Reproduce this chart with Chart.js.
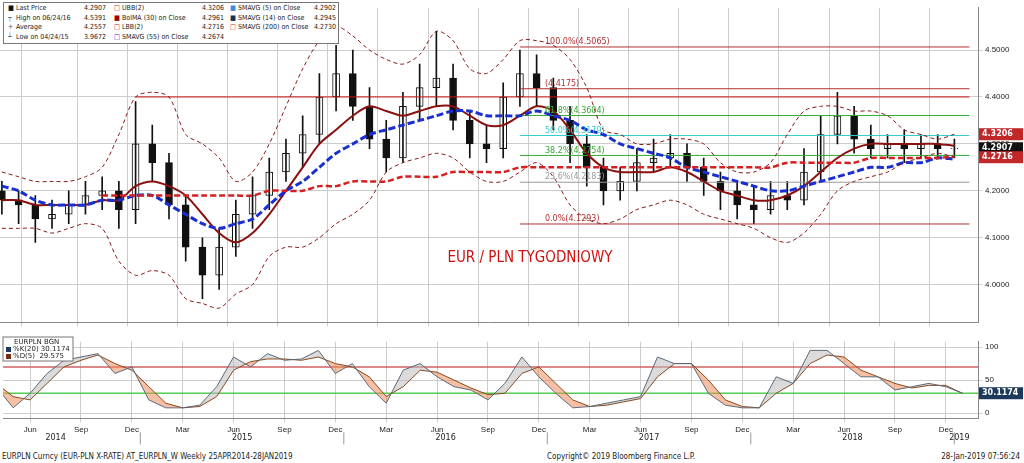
<!DOCTYPE html>
<html><head><meta charset="utf-8">
<script src="https://cdn.jsdelivr.net/npm/chart.js@4/dist/chart.umd.min.js"></script>
<style>
body{margin:0;background:#fff;font-family:"DejaVu Sans",sans-serif;}
#wrap{position:relative;width:1024px;height:463px;}
#top{position:absolute;left:0;top:0;}
#bot{position:absolute;left:0;top:334px;}
#legend{position:absolute;left:3px;top:2px;width:334px;height:40px;background:#fff;border:1px solid #777;font-size:7px;color:#222;font-family:"DejaVu Sans Condensed","DejaVu Sans",sans-serif;}
#legend span{position:absolute;white-space:nowrap;}
#foot{position:absolute;left:2px;top:452px;width:1020px;font-size:8px;color:#222;font-family:"DejaVu Sans Condensed","DejaVu Sans",sans-serif;}
</style></head><body>
<div id="wrap">
<canvas id="top" width="1024" height="330"></canvas>
<canvas id="bot" width="1024" height="118"></canvas>
<div id="legend"></div>
<div id="foot"><span>EURPLN Curncy (EUR-PLN X-RATE) AT_EURPLN_W  Weekly 25APR2014-28JAN2019</span><span style="position:absolute;left:545px">Copyright© 2019 Bloomberg Finance L.P.</span><span style="position:absolute;right:2px">28-Jan-2019 07:56:24</span></div>
</div>
<script>
const months = ["Apr","May","Jun","Jul","Aug","Sep","Oct","Nov","Dec","Jan","Feb","Mar"];
const tickMonths = ["Mar","Jun","Sep","Dec"];
const years = ["2014","2015","2016","2017","2018","2019"];
const priceTicks = [4.0, 4.1, 4.2, 4.3, 4.4, 4.5];
const stochTicks = [0, 50, 100];

const opens = [4.20,4.18,4.17,4.14,4.15,4.17,4.19,4.20,4.16,4.30,4.26,4.17,4.08,4.02,4.08,4.15,4.19,4.24,4.28,4.32,4.40,4.45,4.38,4.31,4.27,4.38,4.42,4.44,4.35,4.30,4.29,4.40,4.45,4.42,4.35,4.30,4.25,4.20,4.22,4.26,4.27,4.28,4.25,4.22,4.20,4.17,4.16,4.19,4.18,4.24,4.32,4.36,4.31,4.29,4.30,4.29,4.30,4.29];
const closes = [4.18,4.17,4.14,4.15,4.17,4.19,4.20,4.16,4.30,4.26,4.17,4.08,4.02,4.08,4.15,4.19,4.24,4.28,4.32,4.40,4.45,4.38,4.31,4.27,4.38,4.42,4.44,4.35,4.30,4.29,4.40,4.45,4.42,4.35,4.30,4.25,4.20,4.22,4.26,4.27,4.28,4.25,4.22,4.20,4.17,4.16,4.19,4.18,4.24,4.32,4.36,4.31,4.29,4.30,4.29,4.30,4.29,4.2907];
const highs = [4.22,4.20,4.19,4.18,4.20,4.22,4.23,4.22,4.39,4.34,4.28,4.19,4.10,4.12,4.18,4.23,4.27,4.31,4.36,4.45,4.51,4.50,4.42,4.35,4.41,4.47,4.54,4.47,4.37,4.34,4.43,4.50,4.49,4.44,4.38,4.32,4.27,4.25,4.29,4.31,4.32,4.30,4.27,4.24,4.22,4.21,4.22,4.22,4.29,4.36,4.41,4.38,4.34,4.32,4.33,4.32,4.32,4.31];
const lows = [4.15,4.13,4.09,4.12,4.13,4.15,4.16,4.12,4.13,4.22,4.14,4.05,3.97,3.99,4.06,4.12,4.16,4.22,4.25,4.30,4.37,4.35,4.29,4.24,4.26,4.35,4.38,4.33,4.27,4.26,4.27,4.38,4.38,4.33,4.26,4.21,4.17,4.18,4.20,4.24,4.25,4.22,4.19,4.16,4.14,4.13,4.15,4.16,4.17,4.22,4.30,4.28,4.27,4.27,4.26,4.27,4.27,4.27];
const bollMid = [4.18,4.18,4.17,4.17,4.17,4.17,4.18,4.18,4.21,4.22,4.21,4.19,4.15,4.11,4.09,4.11,4.15,4.20,4.25,4.30,4.33,4.36,4.38,4.37,4.36,4.37,4.38,4.38,4.36,4.34,4.34,4.36,4.38,4.37,4.33,4.28,4.25,4.24,4.24,4.24,4.25,4.24,4.22,4.20,4.19,4.18,4.18,4.19,4.21,4.24,4.27,4.29,4.30,4.30,4.30,4.30,4.30,4.296];
const bollUp = [4.24,4.23,4.22,4.22,4.22,4.23,4.25,4.32,4.40,4.41,4.40,4.32,4.30,4.27,4.22,4.24,4.30,4.38,4.46,4.52,4.55,4.53,4.50,4.48,4.47,4.49,4.54,4.52,4.46,4.45,4.48,4.52,4.52,4.51,4.48,4.42,4.33,4.32,4.30,4.30,4.31,4.31,4.30,4.26,4.24,4.24,4.26,4.32,4.37,4.38,4.38,4.37,4.37,4.36,4.33,4.32,4.31,4.3206];
const bollLow = [4.12,4.12,4.12,4.11,4.12,4.13,4.12,4.05,4.02,4.03,4.02,3.97,3.96,3.95,3.98,4.00,4.06,4.08,4.08,4.10,4.13,4.15,4.18,4.24,4.26,4.27,4.28,4.27,4.24,4.22,4.22,4.24,4.26,4.23,4.17,4.14,4.13,4.14,4.16,4.17,4.18,4.17,4.15,4.14,4.13,4.12,4.10,4.09,4.11,4.15,4.20,4.22,4.23,4.24,4.26,4.27,4.28,4.2716];
const sma55 = [4.21,4.20,4.18,4.17,4.17,4.17,4.18,4.18,4.19,4.19,4.17,4.15,4.13,4.12,4.13,4.14,4.17,4.20,4.22,4.25,4.28,4.30,4.32,4.33,4.34,4.35,4.36,4.37,4.37,4.36,4.36,4.36,4.37,4.36,4.35,4.33,4.32,4.30,4.29,4.28,4.27,4.25,4.24,4.23,4.22,4.21,4.20,4.20,4.21,4.22,4.23,4.24,4.25,4.25,4.26,4.26,4.27,4.2674];
const sma200 = [null,null,null,null,null,null,4.19,4.19,4.19,4.19,4.19,4.19,4.19,4.19,4.19,4.19,4.20,4.20,4.20,4.21,4.21,4.22,4.22,4.22,4.23,4.23,4.23,4.24,4.24,4.24,4.24,4.25,4.25,4.25,4.25,4.25,4.25,4.25,4.25,4.25,4.25,4.25,4.25,4.25,4.25,4.25,4.25,4.26,4.26,4.26,4.26,4.26,4.27,4.27,4.27,4.27,4.27,4.273];
const stochK = [40,8,30,60,80,85,90,60,70,20,8,8,12,40,85,70,90,80,82,95,60,75,40,15,65,75,55,40,35,20,45,85,55,30,8,10,15,20,25,85,75,75,30,12,8,8,55,45,95,95,75,55,55,35,40,45,40,30.1174];
const stochD = [45,25,20,45,70,80,88,75,65,40,15,8,10,25,65,78,82,82,80,85,75,70,55,25,40,65,62,50,38,28,30,60,70,45,20,10,12,17,22,55,75,75,50,20,10,8,30,45,75,88,85,65,55,45,38,42,42,29.575];
const fibLevels = [4.5065,4.4175,4.3604,4.3179,4.2754,4.2183,4.1293];
const fibLabels = ["100.0%(4.5065)","(4.4175)","61.8%(4.3604)","50.0%(4.3179)","38.2%(4.2754)","23.6%(4.2183)","0.0%(4.1293)"];
const fibColors = ["#b03030","#b03030","#3a3","#3cc","#3a3","#999","#b03030"];
const resistance = 4.40;

const legendRows = [
    ["■", "#111", "Last Price", "4.2907", "□", "#b22", "UBB(2)", "4.3206", "■", "#3a8fe0", "SMAVG (5)  on Close", "4.2902"],
    ["┬", "#555", "High on 06/24/16", "4.5391", "■", "#900", "BolMA (30)  on Close", "4.2961", "■", "#135", "SMAVG (14)  on Close", "4.2945"],
    ["+", "#555", "Average", "4.2557", "□", "#b22", "LBB(2)", "4.2716", "□", "#c22", "SMAVG (200)  on Close", "4.2730"],
    ["┴", "#555", "Low on 04/24/15", "3.9672", "□", "#22b", "SMAVG (55)  on Close", "4.2674"]
];

const idx = closes.map((c, i) => i);
const xMin = 0.4, xMax = 57.9;
const fibStart = 31;

let legend = document.getElementById("legend");
let colX = [[4, 12, 80], [110, 118, 198], [226, 234, 310]];
legendRows.forEach((row, r) => {
    for (let c = 0; c * 4 < row.length; c++) {
        let [sym, col, label, val] = row.slice(c * 4, c * 4 + 4);
        let top = 1 + r * 9.5;
        legend.insertAdjacentHTML("beforeend",
            `<span style="left:${colX[c][0]}px;top:${top}px;color:${col}">${sym}</span>` +
            `<span style="left:${colX[c][1]}px;top:${top}px">${label}</span>` +
            `<span style="left:${colX[c][2]}px;top:${top}px">${val}</span>`);
    }
});

function monthName(i) { return months[((i % 12) + 12) % 12]; }
function isTickMonth(v) { return Number.isInteger(v) && tickMonths.includes(monthName(v)); }

const gridX = {
    color: (c) => (c.tick && isTickMonth(c.tick.value)) ? "#ccc" : "rgba(0,0,0,0)",
    tickLength: 4
};

function tag(ctx, y, text, bg, x) {
    ctx.fillStyle = bg;
    ctx.fillRect(x, y - 6, 44, 12);
    ctx.fillStyle = "#fff";
    ctx.font = "bold 8px DejaVu Sans";
    ctx.textAlign = "left";
    ctx.textBaseline = "middle";
    ctx.fillText(text, x + 3, y);
}

const topOverlay = {
    id: "topOverlay",
    afterDatasetsDraw(chart) {
        let ctx = chart.ctx;
        let x = chart.scales.x, y = chart.scales.y;
        ctx.save();
        ctx.font = "8px DejaVu Sans";
        ctx.textBaseline = "bottom";
        for (let i = 0; i < fibLevels.length; i++) {
            ctx.fillStyle = fibColors[i];
            ctx.fillText(fibLabels[i], x.getPixelForValue(fibStart + 1.5), y.getPixelForValue(fibLevels[i]) - 1);
        }
        ctx.fillStyle = "#d01010";
        ctx.font = "15px 'Liberation Sans Narrow', 'DejaVu Sans Condensed', sans-serif";
        ctx.textAlign = "center";
        ctx.fillText("EUR / PLN TYGODNIOWY", 530, 266);
        let ax = chart.chartArea.right + 1;
        tag(ctx, y.getPixelForValue(4.3206), "4.3206", "#c0282a", ax);
        tag(ctx, y.getPixelForValue(4.2907), "4.2907", "#111", ax);
        tag(ctx, y.getPixelForValue(4.2716), "4.2716", "#c0282a", ax);
        ctx.restore();
    }
};

const botOverlay = {
    id: "botOverlay",
    afterDatasetsDraw(chart) {
        let ctx = chart.ctx;
        let x = chart.scales.x, y = chart.scales.y;
        ctx.save();
        tag(ctx, y.getPixelForValue(30.1174), "30.1174", "#1d3a5c", chart.chartArea.right + 1);
        ctx.fillStyle = "#222";
        ctx.font = "8px DejaVu Sans";
        ctx.textAlign = "center";
        ctx.textBaseline = "top";
        let yy = chart.chartArea.bottom + 16;
        for (let k = 0; k < years.length; k++) {
            let mid = k === 0 ? 4 : 9 + (k - 1) * 12 + 6;
            if (k === years.length - 1) mid = 57.3;
            ctx.fillText(years[k], x.getPixelForValue(mid - 0.5), yy);
            let px = x.getPixelForValue(8.5 + k * 12);
            ctx.strokeStyle = "#999";
            ctx.beginPath(); ctx.moveTo(px, chart.chartArea.bottom + 14); ctx.lineTo(px, chart.chartArea.bottom + 26); ctx.stroke();
        }
        ctx.fillStyle = "#fff";
        ctx.fillRect(3, 3, 70, 24);
        ctx.strokeStyle = "#777";
        ctx.strokeRect(3, 3, 70, 24);
        ctx.font = "7px DejaVu Sans";
        ctx.textAlign = "left";
        ctx.fillStyle = "#222";
        ctx.fillText("EURPLN BGN", 14, 5);
        ctx.fillStyle = "#1d3a5c"; ctx.fillRect(6, 13, 5, 5);
        ctx.fillStyle = "#7a2a10"; ctx.fillRect(6, 20, 5, 5);
        ctx.fillStyle = "#222";
        ctx.fillText("%K(20) 30.1174", 13, 12);
        ctx.fillText("%D(5)  29.575", 13, 19);
        ctx.restore();
    }
};

let wicks = idx.map(i => ({x: i, y: [lows[i], highs[i]]}));
let bodies = idx.map(i => ({x: i, y: [opens[i], closes[i]]}));
let bodyColors = idx.map(i => closes[i] >= opens[i] ? "#fff" : "#111");

function line(data, color, width, dash) {
    return {type: "line", data: idx.map(i => ({x: i, y: data[i]})), borderColor: color, borderWidth: width,
        borderDash: dash || [], pointRadius: 0, tension: 0.3};
}
function hline(level, from, color) {
    return {type: "line", data: [{x: from, y: level}, {x: xMax, y: level}], borderColor: color, borderWidth: 1, pointRadius: 0};
}

let topSets = [
    line(bollUp, "#8b1a1a", 1, [4, 3]),
    line(bollLow, "#8b1a1a", 1, [4, 3]),
    line(sma200, "#d42020", 2.5, [6, 3]),
    line(sma55, "#1a2fd0", 3, [7, 3]),
    line(bollMid, "#8b1010", 2),
    hline(resistance, 8, "#d01010")
];
for (let i = 0; i < fibLevels.length; i++) topSets.push(hline(fibLevels[i], fibStart, fibColors[i]));
topSets.push({type: "bar", data: wicks, backgroundColor: "#111", barThickness: 1, grouped: false});
topSets.push({type: "bar", data: bodies, backgroundColor: bodyColors, borderColor: "#111", borderWidth: 1, borderSkipped: false, barThickness: 7, grouped: false});

new Chart(document.getElementById("top"), {
    type: "bar",
    data: {datasets: topSets},
    options: {
        responsive: false, animation: false,
        layout: {padding: {left: 0, right: 0, top: 2}},
        plugins: {legend: {display: false}, tooltip: {enabled: false}},
        scales: {
            x: {type: "linear", min: xMin, max: xMax, grid: gridX, ticks: {display: false, stepSize: 1}, border: {color: "#888"}},
            y: {position: "right", min: 3.92, max: 4.59, afterFit: (s) => { s.width = 46; },
                afterBuildTicks: (s) => { s.ticks = priceTicks.map(v => ({value: v})); },
                ticks: {color: "#222", font: {size: 8}, callback: (v) => v.toFixed(4)},
                grid: {color: "#ccc", tickLength: 4}, border: {color: "#888"}}
        }
    },
    plugins: [topOverlay]
});

new Chart(document.getElementById("bot"), {
    type: "line",
    data: {datasets: [
        {data: idx.map(i => ({x: i, y: stochK[i]})), borderColor: "#5a6a7a", borderWidth: 1, pointRadius: 0},
        {data: idx.map(i => ({x: i, y: stochD[i]})), borderColor: "#8a4a20", borderWidth: 1, pointRadius: 0,
            fill: {target: 0, above: "rgba(240,140,90,0.55)", below: "rgba(190,190,190,0.55)"}},
        {data: [{x: xMin, y: 70}, {x: xMax, y: 70}], borderColor: "#d06060", borderWidth: 1.5, pointRadius: 0},
        {data: [{x: xMin, y: 30}, {x: xMax, y: 30}], borderColor: "#5c5", borderWidth: 1.5, pointRadius: 0}
    ]},
    options: {
        responsive: false, animation: false,
        layout: {padding: {bottom: 14}},
        plugins: {legend: {display: false}, tooltip: {enabled: false}},
        scales: {
            x: {type: "linear", min: xMin, max: xMax, grid: gridX, border: {color: "#888"},
                ticks: {stepSize: 1, autoSkip: false, maxRotation: 0, color: "#222", font: {size: 8},
                    callback: (v) => isTickMonth(v) ? monthName(v) : ""}},
            y: {position: "right", min: -8, max: 108, afterFit: (s) => { s.width = 46; },
                afterBuildTicks: (s) => { s.ticks = stochTicks.map(v => ({value: v})); },
                ticks: {color: "#222", font: {size: 8}},
                grid: {color: "#ccc", tickLength: 4}, border: {color: "#888"}}
        }
    },
    plugins: [botOverlay]
});
</script>
</body></html>
